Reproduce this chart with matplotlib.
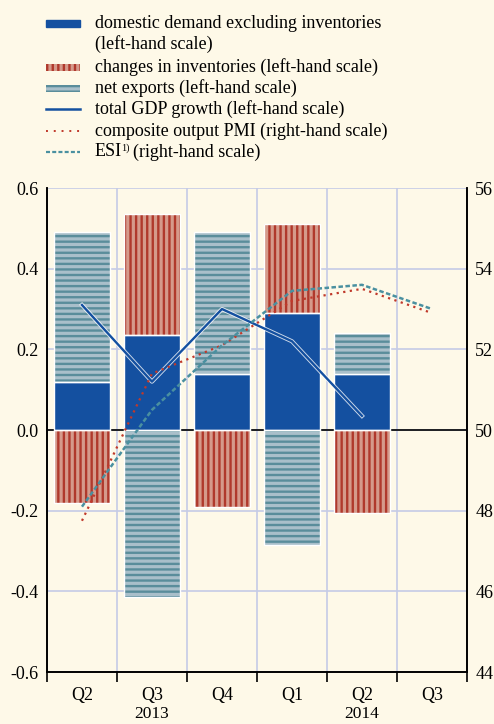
import numpy as np
import matplotlib
matplotlib.use("Agg")
import matplotlib.pyplot as plt
import matplotlib.patheffects as pe
import matplotlib.transforms as mtrans
from matplotlib.patches import Rectangle
from matplotlib.lines import Line2D

plt.rcParams['font.family'] = ['Liberation Serif', 'DejaVu Serif']

# data (percentage point contributions, quarterly)
quarters = ['Q2', 'Q3', 'Q4', 'Q1', 'Q2', 'Q3']
years = ['2013', '2014']
domestic = [0.12, 0.235, 0.14, 0.29, 0.14]
inventories = [-0.18, 0.30, -0.19, 0.22, -0.205]
net_exports = [0.37, -0.415, 0.35, -0.285, 0.10]
gdp = [0.31, 0.12, 0.30, 0.22, 0.035]
pmi = [47.75, 51.4, 52.1, 53.2, 53.5, 52.9]
esi = [48.1, 50.5, 52.1, 53.45, 53.6, 53.0]

BG = '#FEF9E8'
BLUE = '#1450A0'
INV_FILL = '#D59A8B'
INV_LINE = '#B0392C'
NX_FILL = '#A9BFCA'
NX_LINE = '#5A8D9B'
PMI_C = '#C0392B'
ESI_C = '#4A90A0'
GRID = '#C5CBE6'
FS = 13

fig = plt.figure(figsize=(4.94, 7.24), dpi=100, facecolor=BG)
ax = fig.add_axes([0.0951, 0.0718, 0.8502, 0.6685], facecolor=BG)
ax2 = ax.twinx()

x = np.arange(len(domestic))
w = 0.79


def stacked_bar(xi, bottom, h, fill, line, hatch):
    ax.bar(xi, h, w, bottom=bottom, color=fill, edgecolor=line, linewidth=0,
           hatch=hatch, zorder=2)
    ax.bar(xi, h, w, bottom=bottom, color='none', edgecolor='white',
           linewidth=1.0, zorder=3)


plt.rcParams['hatch.linewidth'] = 1.7
for i in x:
    pos, neg = 0.0, 0.0
    for val, fill, line, hatch in [(domestic[i], BLUE, BLUE, None),
                                   (inventories[i], INV_FILL, INV_LINE, '|||'),
                                   (net_exports[i], NX_FILL, NX_LINE, '---')]:
        if val >= 0:
            stacked_bar(i, pos, val, fill, line, hatch)
            pos += val
        else:
            stacked_bar(i, neg, val, fill, line, hatch)
            neg += val

halo = [pe.Stroke(linewidth=3.0, foreground='white', alpha=0.8), pe.Normal()]
ax.plot(x, gdp, color=BLUE, lw=1.7, zorder=5, path_effects=halo)

xq = np.arange(len(pmi))
ax2.plot(xq, pmi, color=PMI_C, lw=1.6, ls=(0, (1, 2)), zorder=5)
ax2.plot(xq, esi, color=ESI_C, lw=1.8, ls=(0, (1.8, 1.0)), zorder=5)

ax.set_zorder(ax2.get_zorder() - 1)
ax.patch.set_visible(True)
ax2.patch.set_visible(False)

ax.set_xlim(-0.5, 5.5)
ax.set_ylim(-0.6, 0.6)
ax2.set_ylim(44, 56)

ax.set_yticks(np.arange(-0.6, 0.61, 0.2))
ax.set_yticklabels(['-0.6', '-0.4', '-0.2', '0.0', '0.2', '0.4', '0.6'])
ax2.set_yticks(np.arange(44, 57, 2))

ax.set_xticks(np.arange(6))
ax.set_xticklabels(quarters)
ax.set_xticks(np.arange(-0.5, 5.6, 1), minor=True)
ax.tick_params(axis='x', which='major', length=0, pad=11, labelsize=FS)
ax.tick_params(axis='x', which='minor', length=7, direction='out', width=1.2)
ax.tick_params(axis='y', length=0, labelsize=FS, pad=6)
ax2.tick_params(axis='y', length=0, labelsize=FS, pad=6)

ax.grid(True, which='minor', axis='x', color=GRID, lw=1.2, zorder=0)
ax.grid(True, which='major', axis='y', color=GRID, lw=1.2, zorder=0)
ax.set_axisbelow(True)
ax.axhline(0, color='black', lw=1.2, zorder=1)

for a in (ax, ax2):
    a.spines['top'].set_visible(False)
    for s in ('left', 'right', 'bottom'):
        a.spines[s].set_linewidth(1.2)
        a.spines[s].set_color('black')

# year labels at the very bottom of the figure
yr_tr = mtrans.blended_transform_factory(ax.transData, fig.transFigure)
ax.text(1, 1.5 / 724, years[0], ha='center', va='bottom', fontsize=12.5,
        transform=yr_tr, clip_on=False)
ax.text(4, 1.5 / 724, years[1], ha='center', va='bottom', fontsize=12.5,
        transform=yr_tr, clip_on=False)

# legend drawn by hand in figure pixels
H = 724.0
W = 494.0
entries = [
    (23, 'domestic demand excluding inventories', 'dom'),
    (44, '(left-hand scale)', None),
    (67, 'changes in inventories (left-hand scale)', 'inv'),
    (88, 'net exports (left-hand scale)', 'nx'),
    (109, 'total GDP growth (left-hand scale)', 'gdp'),
    (131, 'composite output PMI (right-hand scale)', 'pmi'),
    (152, None, 'esi'),
]
hx0, hx1 = 46, 80
for yp, label, kind in entries:
    yf = 1 - yp / H
    if label is not None:
        fig.text(95 / W, yf, label, fontsize=FS, va='center', ha='left')
    if kind == 'dom':
        fig.patches.append(Rectangle((hx0 / W, yf - 3.5 / H), (hx1 - hx0) / W, 7 / H,
                                     transform=fig.transFigure, color=BLUE))
    elif kind == 'inv':
        fig.patches.append(Rectangle((hx0 / W, yf - 3.5 / H), (hx1 - hx0) / W, 7 / H,
                                     transform=fig.transFigure, facecolor=INV_FILL,
                                     edgecolor=INV_LINE, hatch='|||', lw=0))
    elif kind == 'nx':
        fig.patches.append(Rectangle((hx0 / W, yf - 3.5 / H), (hx1 - hx0) / W, 7 / H,
                                     transform=fig.transFigure, facecolor=NX_FILL,
                                     edgecolor=NX_LINE, hatch='---', lw=0))
    elif kind == 'gdp':
        fig.lines.append(Line2D([hx0 / W, hx1 / W], [yf, yf], transform=fig.transFigure,
                                color=BLUE, lw=1.8))
    elif kind == 'pmi':
        fig.lines.append(Line2D([hx0 / W, hx1 / W], [yf, yf], transform=fig.transFigure,
                                color=PMI_C, lw=1.4, ls=(0, (1, 3))))
    elif kind == 'esi':
        fig.lines.append(Line2D([hx0 / W, hx1 / W], [yf, yf], transform=fig.transFigure,
                                color=ESI_C, lw=1.6, ls=(0, (1.8, 1.0))))
        fig.text(95 / W, yf, 'ESI', fontsize=FS, va='center', ha='left')
        fig.text(121 / W, yf + 4 / H, '1)', fontsize=7.5, va='center', ha='left')
        fig.text(133 / W, yf, '(right-hand scale)', fontsize=FS, va='center', ha='left')

fig.savefig('out.png', dpi=100, facecolor=BG)
